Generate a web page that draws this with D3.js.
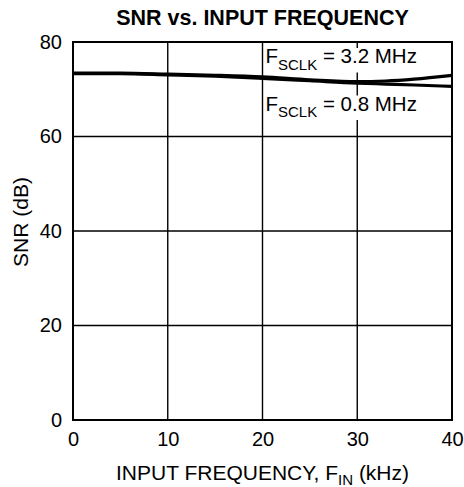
<!DOCTYPE html>
<html><head><meta charset="utf-8">
<script src="https://cdn.jsdelivr.net/npm/d3@7"></script>
<style>body{margin:0;background:#fff;} svg{display:block;}</style>
</head><body>
<script>
const xTicks = [0, 10, 20, 30, 40];
const yTicks = [0, 20, 40, 60, 80];
const freq = [0, 5, 10, 15, 20, 25, 30, 33, 36, 40];
const snr32 = [73.4, 73.4, 73.2, 72.95, 72.6, 72.0, 71.6, 71.75, 72.15, 72.95];
const snr08 = [73.3, 73.3, 73.05, 72.75, 72.3, 71.8, 71.3, 71.1, 70.9, 70.6];
const seriesNames = ["3.2 MHz", "0.8 MHz"];

const W = 464, H = 487;
const m = {l: 73, r: 12, t: 42, b: 67};
const FF = "'Liberation Sans', Arial, sans-serif";
const svg = d3.select("body").append("svg").attr("width", W).attr("height", H)
  .style("font-family", FF);
const x = d3.scaleLinear().domain([0, 40]).range([m.l, W - m.r]);
const y = d3.scaleLinear().domain([0, 80]).range([H - m.b, m.t]);

// grid
svg.append("g").selectAll("line").data(xTicks.slice(1, -1)).join("line")
  .attr("x1", d => x(d)).attr("x2", d => x(d)).attr("y1", y(0)).attr("y2", y(80))
  .attr("stroke", "#000").attr("stroke-width", 1.4);
svg.append("g").selectAll("line").data(yTicks.slice(1, -1)).join("line")
  .attr("y1", d => y(d)).attr("y2", d => y(d)).attr("x1", x(0)).attr("x2", x(40))
  .attr("stroke", "#000").attr("stroke-width", 1.4);

// axes labels via d3 axes
const xAxis = svg.append("g").attr("transform", `translate(0,${y(0)})`)
  .call(d3.axisBottom(x).tickValues(xTicks).tickSize(0).tickPadding(12));
xAxis.select(".domain").remove();
xAxis.selectAll("text").attr("font-size", 20).attr("fill", "#000").style("font-family", FF);
const yAxis = svg.append("g").attr("transform", `translate(${x(0)},0)`)
  .call(d3.axisLeft(y).tickValues(yTicks).tickSize(0).tickPadding(11));
yAxis.select(".domain").remove();
yAxis.selectAll("text").attr("font-size", 20).attr("fill", "#000").style("font-family", FF);

// labels with white backgrounds
function label(yy, val) {
  const g = svg.append("g");
  const t = g.append("text").attr("x", x(20) + 3).attr("y", yy).attr("font-size", 20.5).attr("fill", "#000");
  t.append("tspan").text("F");
  t.append("tspan").attr("dy", 6.5).attr("font-size", 15).text("SCLK");
  t.append("tspan").attr("dy", -6.5).text(" = " + val);
  const bb = t.node().getBBox();
  g.insert("rect", "text").attr("x", bb.x).attr("y", bb.y + 4).attr("width", bb.width).attr("height", bb.height - 4).attr("fill", "#fff");
}
label(y(80) + 21, seriesNames[0]);
label(y(80) + 68.5, seriesNames[1]);

// curves
const line = d3.line().x(d => x(d[0])).y(d => y(d[1])).curve(d3.curveMonotoneX);
[snr32, snr08].forEach(s => {
  svg.append("path").datum(freq.map((f, i) => [f, s[i]])).attr("d", line)
    .attr("fill", "none").attr("stroke", "#000").attr("stroke-width", 3.2);
});

// frame
svg.append("rect").attr("x", x(0)).attr("y", y(80)).attr("width", x(40) - x(0)).attr("height", y(0) - y(80))
  .attr("fill", "none").attr("stroke", "#000").attr("stroke-width", 2);

// title
svg.append("text").attr("x", (x(0) + x(40)) / 2).attr("y", 25).attr("text-anchor", "middle")
  .attr("font-size", 21.5).attr("font-weight", "bold").text("SNR vs. INPUT FREQUENCY");

// x title
const xt = svg.append("text").attr("x", (x(0) + x(40)) / 2).attr("y", 480).attr("text-anchor", "middle").attr("font-size", 21);
xt.append("tspan").text("INPUT FREQUENCY, F");
xt.append("tspan").attr("dy", 5).attr("font-size", 15).text("IN");
xt.append("tspan").attr("dy", -5).text(" (kHz)");

// y title
svg.append("text").attr("transform", `translate(28,222) rotate(-90)`)
  .attr("text-anchor", "middle").attr("font-size", 21).text("SNR (dB)");
</script>
</body></html>
